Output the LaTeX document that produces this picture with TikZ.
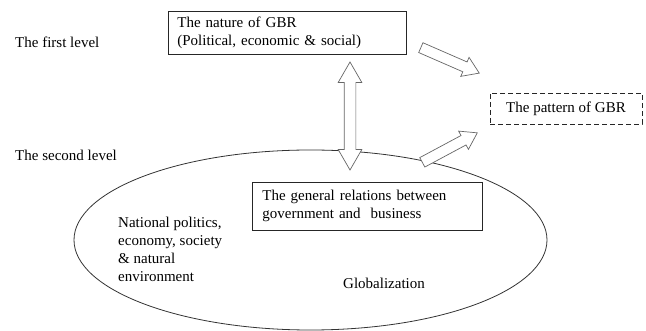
\documentclass[tikz,border=0pt]{standalone}
\usepackage{fontspec}
\setmainfont{Liberation Serif}
\usetikzlibrary{shapes.geometric,shapes.arrows,calc}
\tikzset{
  box/.style={draw=black!85,line width=0.8pt,inner ysep=0pt,align=left},
  hollow/.style={single arrow,draw=black!60,fill=white,line width=0.7pt,
    inner xsep=0pt,inner ysep=5pt,minimum width=20pt,
    single arrow head extend=5pt,single arrow tip angle=67},
  twoway/.style={double arrow,draw=black!60,fill=white,line width=0.7pt,
    inner xsep=0pt,inner ysep=5.5pt,minimum width=23pt,
    double arrow head extend=6pt,double arrow tip angle=60}
}
\begin{document}
\begin{tikzpicture}[x=1pt,y=-1pt,font=\fontsize{15}{18}\selectfont]
  \useasboundingbox (0,0) rectangle (646,331);
  % levels
  \node[anchor=west,inner sep=0pt] (first) at (15,42) {The first level};
  \node[anchor=west,inner sep=0pt] (second) at (15,155) {The second level};
  % ellipse of the second level
  \node[ellipse,draw=black!80,line width=0.8pt,minimum width=473pt,
    minimum height=180pt] (env) at (310.5,240) {};
  \node[anchor=west,align=left,inner sep=0pt] (nat) at (118,249)
    {National politics,\\economy, society\\\& natural\\environment};
  \node[inner sep=0pt] (glob) at (384,283) {Globalization};
  % boxes
  \node[box,anchor=north west,inner xsep=9pt,text width=220pt,
    minimum height=43pt] (nature) at (168,11)
    {The nature of GBR\\(Political, economic \& social)};
  \node[box,anchor=north west,inner xsep=10pt,text width=210pt,
    minimum height=48pt] (general) at (252,182)
    {The general relations between\\government and\ \ business};
  \node[box,dash pattern=on 5pt off 3pt,align=center,minimum width=152pt,
    minimum height=31pt] (pattern) at (566,108.5) {The pattern of GBR};
  % arrow ends
  \coordinate (d1) at (350,170);
  \coordinate (d2) at (350,62);
  \coordinate (u1) at (420.5,47.5);
  \coordinate (u2) at (479,73);
  \coordinate (l1) at (422,162.5);
  \coordinate (l2) at (477,133);
  % block arrows
  \path let \p1=($(d2)-(d1)$), \n1={veclen(\x1,\y1)} in
    node[twoway,rotate=90,minimum height=\n1] (both) at ($(d1)!0.5!(d2)$) {};
  \path let \p1=($(u2)-(u1)$), \n1={veclen(\x1,\y1)}, \n2={atan2(\y1,\x1)} in
    node[hollow,anchor=tail,rotate=\n2,minimum height=\n1] (upper) at (u1) {};
  \path let \p1=($(l2)-(l1)$), \n1={veclen(\x1,\y1)}, \n2={atan2(\y1,\x1)} in
    node[hollow,anchor=tail,rotate=\n2,minimum height=\n1] (lower) at (l1) {};
\end{tikzpicture}
\end{document}
